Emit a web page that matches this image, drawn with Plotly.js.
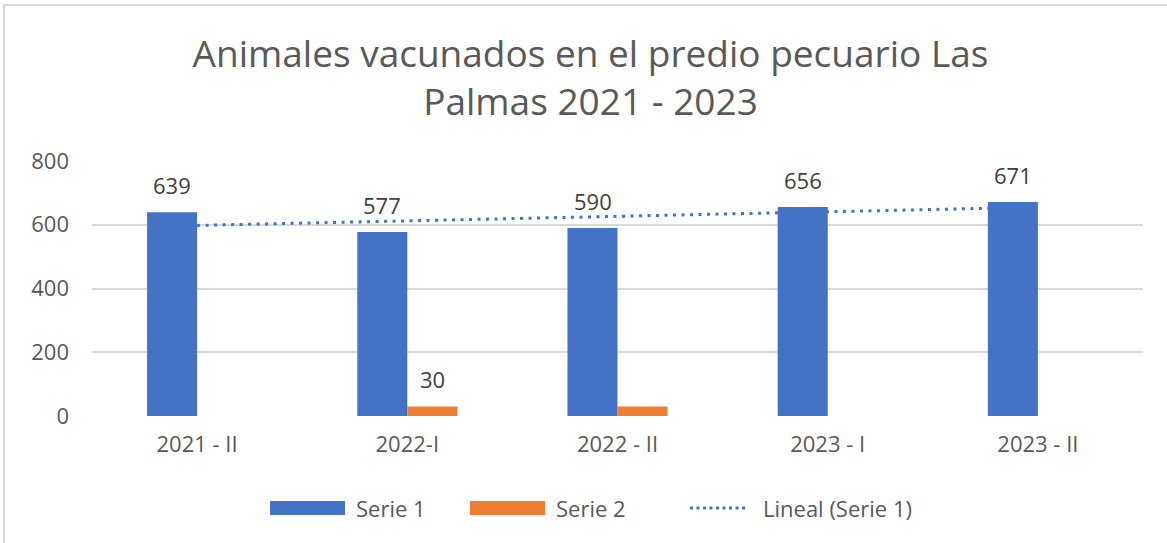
<!DOCTYPE html>
<html>
<head>
<meta charset="utf-8">
<script src="https://cdn.plot.ly/plotly-3.0.1.min.js"></script>
<style>
html,body{margin:0;padding:0;background:#fff;}
#frame{position:absolute;left:3px;top:4px;width:1164px;height:539px;border-top:2px solid #d9d9d9;border-left:2px solid #d9d9d9;}
#chart{position:absolute;left:0;top:0;width:1167px;height:543px;}
</style>
</head>
<body>
<div id="frame"></div>
<div id="chart"></div>
<script>
const categories = ['2021 - II', '2022-I', '2022 - II', '2023 - I', '2023 - II'];
const serie1 = [639, 577, 590, 656, 671];
const serie2 = [0, 30, 30, 0, 0];
const serie2Labels = ['', '30', '', '', ''];
const trendSerie1 = [598, 612, 627, 641, 655];
const yTicks = [0, 200, 400, 600, 800];

const FONT = 'Open Sans, sans-serif';
const GREY = '#595959';
const BLUE = '#4472C4';
const ORANGE = '#ED7D31';

// trend line on the main subplot (drawn first), bars on the overlaying subplot (drawn on top)
const traces = [
  {type:'scatter', mode:'lines', x:categories, y:trendSerie1, name:'Lineal (Serie 1)', xaxis:'x', yaxis:'y',
   line:{color:BLUE, width:3, dash:'3px,5.5px'}, hoverinfo:'skip', showlegend:false},
  {type:'bar', x:categories, y:serie1, name:'Serie 1', xaxis:'x2', yaxis:'y2', marker:{color:BLUE}, showlegend:false},
  {type:'bar', x:categories, y:serie2, name:'Serie 2', xaxis:'x2', yaxis:'y2', marker:{color:ORANGE}, showlegend:false}
];

const annotations = [];
categories.forEach((c,i)=>{
  annotations.push({x:c, y:serie1[i], xref:'x', yref:'y', text:String(serie1[i]), showarrow:false,
    xshift:-25, yshift:10, yanchor:'bottom', font:{family:FONT, size:22, color:'#404040'}});
  if (serie2Labels[i]) {
    annotations.push({x:c, y:serie2[i], xref:'x', yref:'y', text:serie2Labels[i], showarrow:false,
      xshift:25, yshift:10, yanchor:'bottom', font:{family:FONT, size:22, color:'#404040'}});
  }
});

// custom legend
const legY = -0.361;
annotations.push({xref:'paper', yref:'paper', x:0.2493, y:legY, xanchor:'left', yanchor:'middle', text:'Serie 1', showarrow:false, font:{family:FONT, size:22, color:GREY}});
annotations.push({xref:'paper', yref:'paper', x:0.4396, y:legY, xanchor:'left', yanchor:'middle', text:'Serie 2', showarrow:false, font:{family:FONT, size:22, color:GREY}});
annotations.push({xref:'paper', yref:'paper', x:0.6366, y:legY, xanchor:'left', yanchor:'middle', text:'Lineal (Serie 1)', showarrow:false, font:{family:FONT, size:22, color:GREY}});

const shapes = [
  {type:'rect', xref:'paper', yref:'paper', x0:0.1694, x1:0.2407, y0:-0.333, y1:-0.388, fillcolor:BLUE, line:{width:0}},
  {type:'rect', xref:'paper', yref:'paper', x0:0.3597, x1:0.4310, y0:-0.333, y1:-0.388, fillcolor:ORANGE, line:{width:0}},
  {type:'line', xref:'paper', yref:'paper', x0:0.5690, x1:0.6242, y0:legY, y1:legY, line:{color:BLUE, width:3, dash:'3px,3.5px'}}
];

const layout = {
  width:1167, height:543,
  margin:{l:92, r:24, t:161, b:127},
  paper_bgcolor:'rgba(0,0,0,0)', plot_bgcolor:'rgba(0,0,0,0)',
  title:{text:'Animales vacunados en el predio pecuario Las<br>Palmas 2021 - 2023', x:0.506, xref:'container', y:0.877, yanchor:'bottom',
    font:{family:FONT, size:37, color:GREY}},
  barmode:'group', bargap:0.524, bargroupgap:0,
  showlegend:false,
  xaxis:{type:'category', categoryarray:categories, tickfont:{family:FONT, size:22, color:GREY}, ticks:'', ticklabelstandoff:13,
    showgrid:false, zeroline:false, showline:false},
  yaxis:{range:[0,800], tickvals:yTicks, tickfont:{family:FONT, size:22, color:GREY}, ticks:'', ticklabelstandoff:22,
    showgrid:true, gridcolor:'#d9d9d9', gridwidth:2, zeroline:false, showline:false},
  xaxis2:{type:'category', categoryarray:categories, overlaying:'x', matches:'x', visible:false},
  yaxis2:{range:[0,800], overlaying:'y', visible:false, showgrid:false, zeroline:false},
  annotations:annotations,
  shapes:shapes
};

Plotly.newPlot('chart', traces, layout, {displayModeBar:false, staticPlot:true});
</script>
</body>
</html>
